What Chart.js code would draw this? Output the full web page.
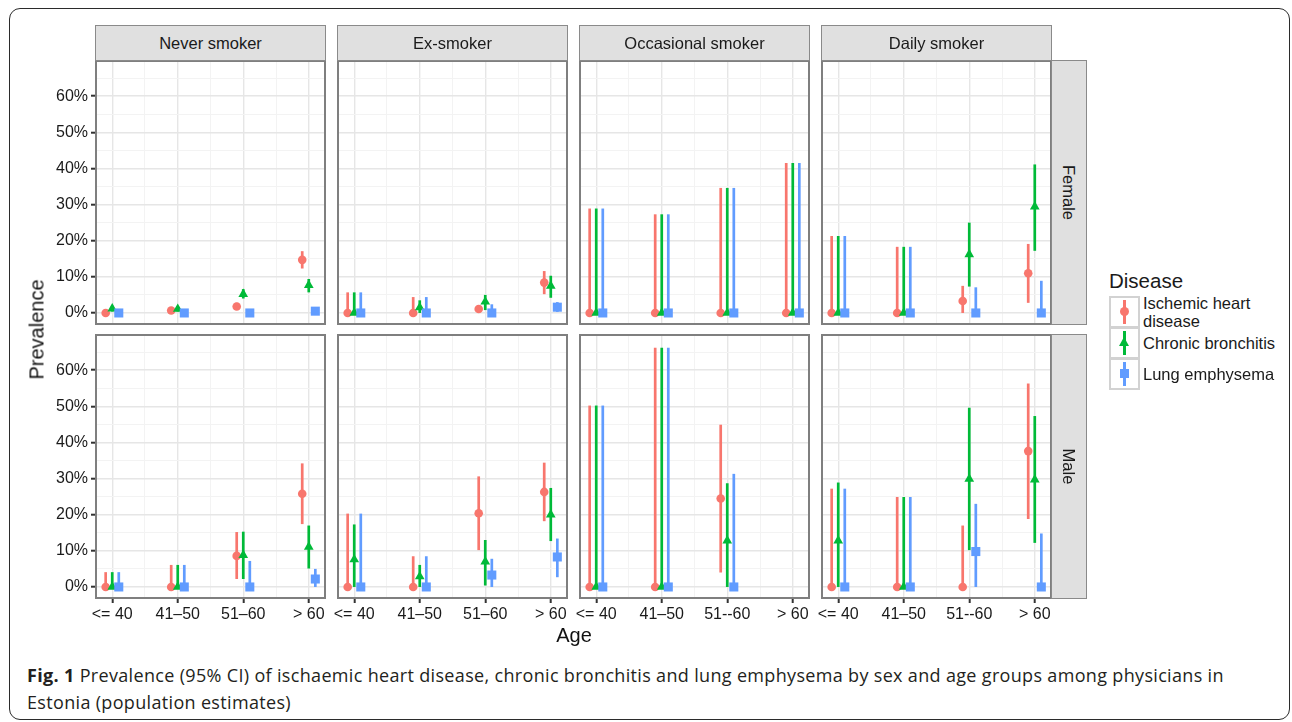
<!DOCTYPE html>
<html lang="en">
<head>
<meta charset="UTF-8">
<title>Prevalence by smoking status, sex and age</title>
<script src="https://cdn.jsdelivr.net/npm/chart.js"></script>
<style>
  body { margin: 0; background: #fff; }
  #fig { position: relative; width: 1292px; height: 722px; overflow: hidden; font-family: "Liberation Sans", Arial, sans-serif; color: #1a1a1a; }
  #frame { position: absolute; left: 9px; top: 8px; width: 1279px; height: 710px; border: 1.5px solid #2b2b2b; border-radius: 11px; }
  canvas { position: absolute; }
  .strip { position: absolute; background: #e0e0e0; border: 1px solid #8a8a8a; box-sizing: border-box; font-size: 16.5px; display: flex; align-items: center; justify-content: center; }
  .strip.side span { transform: rotate(90deg); white-space: nowrap; }
  .title { position: absolute; font-size: 20px; color: #111; }
  .lhead { position: absolute; left: 1109px; top: 269px; font-size: 20.5px; }
  .key { position: absolute; left: 1109px; width: 31px; height: 32px; box-sizing: border-box; border: 2px solid #d2d2d2; }
  .key .bar { position: absolute; left: 12px; top: 2px; width: 3px; height: 24px; }
  .klabel { position: absolute; left: 1143px; font-size: 16.5px; line-height: 18px; white-space: nowrap; }
  #caption { position: absolute; left: 27px; top: 662px; font-family: "Open Sans", sans-serif; font-size: 18px; letter-spacing: 0.33px; line-height: 27px; color: #231f20; white-space: nowrap; }
</style>
</head>
<body>
<div id="fig">
  <div id="frame"></div>
</div>
<script>
// facets and labels
const smoking = ['Never smoker', 'Ex-smoker', 'Occasional smoker', 'Daily smoker'];
const sexes = ['Female', 'Male'];
const diseases = ['Ischemic heart disease', 'Chronic bronchitis', 'Lung emphysema'];
const ageLabelsA = ['<= 40', '41\u201350', '51\u201360', '> 60'];
const ageLabelsB = ['<= 40', '41\u201350', '51--60', '> 60'];
const yTicks = [0, 5, 10, 15, 20, 25, 30, 35, 40, 45, 50, 55, 60, 65];
const xTicks = [1, 1.5, 2, 2.5, 3, 3.5, 4];

// prevalence in %, rows = smoking status, columns = age group
const ihdFemaleEst = [[0, 0.7, 1.8, 14.7], [0, 0, 1.1, 8.4], [0, 0, 0, 0], [0, 0, 3.3, 11.0]];
const ihdFemaleLo  = [[0, 0.2, 1.0, 12.3], [0, 0, 0.3, 5.2], [0, 0, 0, 0], [0, 0, 0, 2.8]];
const ihdFemaleHi  = [[0.6, 1.4, 2.8, 17.1], [5.7, 4.4, 2.2, 11.6], [28.9, 27.3, 34.6, 41.5], [21.3, 18.3, 7.5, 19.1]];
const chbFemaleEst = [[1.2, 1.1, 5.2, 7.7], [0, 1.5, 3.1, 7.5], [0, 0, 0, 0], [0, 0, 16.2, 29.4]];
const chbFemaleLo  = [[0.4, 0.4, 4.0, 5.7], [0, 0, 0.8, 4.2], [0, 0, 0, 0], [0, 0, 7.3, 17.2]];
const chbFemaleHi  = [[2.0, 1.8, 6.6, 9.4], [5.7, 3.5, 5.0, 10.3], [28.9, 27.3, 34.6, 41.5], [21.3, 18.3, 25.0, 41.1]];
const empFemaleEst = [[0, 0, 0, 0.5], [0, 0, 0, 1.6], [0, 0, 0, 0], [0, 0, 0, 0]];
const empFemaleLo  = [[0, 0, 0, 0], [0, 0, 0, 0.3], [0, 0, 0, 0], [0, 0, 0, 0]];
const empFemaleHi  = [[0.4, 0.4, 0.5, 1.0], [5.7, 4.4, 2.4, 3.0], [28.9, 27.3, 34.6, 41.5], [21.3, 18.3, 7.1, 8.9]];

const ihdMaleEst = [[0, 0, 8.6, 25.8], [0, 0, 20.4, 26.3], [0, 0, 24.5, null], [0, 0, 0, 37.6]];
const ihdMaleLo  = [[0, 0, 2.2, 17.4], [0, 0, 10.2, 18.2], [0, 0, 4.0, null], [0, 0, 0, 18.8]];
const ihdMaleHi  = [[4.1, 6.1, 15.2, 34.2], [20.3, 8.5, 30.6, 34.4], [50.2, 66.2, 44.9, null], [27.2, 24.9, 17.0, 56.3]];
const chbMaleEst = [[0, 0, 8.8, 11.1], [7.6, 2.9, 7.0, 20.0], [0, 0, 12.8, null], [12.8, 0, 29.9, 29.7]];
const chbMaleLo  = [[0, 0, 2.2, 5.1], [0, 0, 0.4, 12.7], [0, 0, 0, null], [0, 0, 10.2, 12.2]];
const chbMaleHi  = [[4.1, 6.1, 15.3, 17.0], [17.3, 6.1, 13.0, 27.4], [50.2, 66.2, 28.7, null], [28.9, 24.9, 49.6, 47.3]];
const empMaleEst = [[0, 0, 0, 2.2], [0, 0, 3.3, 8.3], [0, 0, 0, null], [0, 0, 9.8, 0]];
const empMaleLo  = [[0, 0, 0, 0], [0, 0, 0, 2.7], [0, 0, 0, null], [0, 0, 0, 0]];
const empMaleHi  = [[4.1, 6.1, 7.2, 5.0], [20.3, 8.5, 7.8, 13.4], [50.2, 66.2, 31.3, null], [27.2, 24.9, 23.0, 14.8]];

// styling
const colors = ['#F8766D', '#00BA38', '#619CFF'];
const pointStyles = ['circle', 'triangle', 'rect'];
const pointSizes = [4.3, 5.6, 6.4];
const dodge = [-0.1, 0, 0.1];

const panelLeft = [95, 337, 579, 821];
const panelTop = [60, 334];
const panelW = 231, panelH = 265;
const yAxisW = 70, xAxisH = 34;
const sideRoom = 22; // extra canvas room so edge tick labels are not cut

const est = [[ihdFemaleEst, chbFemaleEst, empFemaleEst], [ihdMaleEst, chbMaleEst, empMaleEst]];
const lo  = [[ihdFemaleLo, chbFemaleLo, empFemaleLo], [ihdMaleLo, chbMaleLo, empMaleLo]];
const hi  = [[ihdFemaleHi, chbFemaleHi, empFemaleHi], [ihdMaleHi, chbMaleHi, empMaleHi]];

const fig = document.getElementById('fig');

// error bars + panel border
const errorBars = {
    id: 'errorBars',
    beforeDatasetDraw(chart, args) {
        const ds = chart.data.datasets[args.index];
        const ctx = chart.ctx, xs = chart.scales.x, ys = chart.scales.y, a = chart.chartArea;
        ctx.save();
        ctx.beginPath();
        ctx.rect(a.left, a.top, a.right - a.left, a.bottom - a.top);
        ctx.clip();
        ctx.strokeStyle = ds.borderColor;
        ctx.lineWidth = 2.7;
        ds.data.forEach(p => {
            const px = xs.getPixelForValue(p.x);
            ctx.beginPath();
            ctx.moveTo(px, ys.getPixelForValue(p.lo));
            ctx.lineTo(px, ys.getPixelForValue(p.hi));
            ctx.stroke();
        });
        ctx.restore();
    },
    afterDraw(chart) {
        const ctx = chart.ctx, a = chart.chartArea;
        ctx.save();
        ctx.strokeStyle = '#7f7f7f';
        ctx.lineWidth = 2;
        ctx.strokeRect(a.left + 1, a.top + 1, a.right - a.left - 2, a.bottom - a.top - 2);
        ctx.restore();
    }
};

function noPad(s) {
    s.paddingLeft = 0; s.paddingRight = 0; s.paddingTop = 0; s.paddingBottom = 0;
}

function makePanel(r, c) {
    const leftAxis = c === 0, bottomAxis = r === 1;
    const padL = bottomAxis && !leftAxis ? sideRoom : 0;
    const padR = bottomAxis ? sideRoom : 0;
    const w = panelW + (leftAxis ? yAxisW : 0) + padL + padR;
    const h = panelH + (bottomAxis ? xAxisH : 0);
    const cv = document.createElement('canvas');
    cv.width = w; cv.height = h;
    cv.style.left = (panelLeft[c] - (leftAxis ? yAxisW : 0) - padL) + 'px';
    cv.style.top = panelTop[r] + 'px';
    cv.style.width = w + 'px'; cv.style.height = h + 'px';
    fig.appendChild(cv);

    const labels = c < 2 ? ageLabelsA : ageLabelsB;
    const datasets = diseases.map((d, k) => {
        const pts = [];
        for (let g = 0; g < 4; g++) {
            const v = est[r][k][c][g];
            if (v === null) continue;
            pts.push({ x: g + 1 + dodge[k], y: v, lo: lo[r][k][c][g], hi: hi[r][k][c][g] });
        }
        return {
            label: d, data: pts, order: 3 - k,
            backgroundColor: colors[k], borderColor: colors[k],
            pointStyle: pointStyles[k], pointRadius: pointSizes[k], pointBorderWidth: 0,
            showLine: false
        };
    });

    const isMajor = ctx => ctx.tick && (ctx.scale.axis === 'x' ? ctx.tick.value % 1 === 0 : ctx.tick.value % 10 === 0);
    const gridColor = ctx => isMajor(ctx) ? '#e6e6e6' : '#f3f3f3';
    const gridWidth = ctx => isMajor(ctx) ? 1.4 : 1;

    new Chart(cv, {
        type: 'scatter',
        data: { datasets },
        options: {
            responsive: false,
            animation: false,
            layout: { autoPadding: false, padding: { left: padL, right: padR, top: 0, bottom: 0 } },
            plugins: { legend: { display: false }, tooltip: { enabled: false } },
            scales: {
                x: {
                    type: 'linear', min: 0.737, max: 4.263,
                    afterBuildTicks: s => { s.ticks = xTicks.map(v => ({ value: v })); },
                    afterFit: s => { s.height = bottomAxis ? xAxisH : 0; noPad(s); },
                    border: { display: false },
                    grid: {
                        color: gridColor, lineWidth: gridWidth,
                        drawTicks: bottomAxis, tickLength: 4, tickWidth: 2,
                        tickColor: ctx => isMajor(ctx) ? '#333' : 'rgba(0,0,0,0)'
                    },
                    ticks: {
                        display: bottomAxis, autoSkip: false, maxRotation: 0, padding: 2,
                        color: '#1a1a1a', font: { family: 'Liberation Sans', size: 16 },
                        callback: v => Number.isInteger(v) ? labels[v - 1] : ''
                    }
                },
                y: {
                    type: 'linear', min: -3.33, max: 70,
                    afterBuildTicks: s => { s.ticks = yTicks.map(v => ({ value: v })); },
                    afterFit: s => { s.width = leftAxis ? yAxisW : 0; noPad(s); },
                    border: { display: false },
                    grid: {
                        color: gridColor, lineWidth: gridWidth,
                        drawTicks: leftAxis, tickLength: 4, tickWidth: 2,
                        tickColor: ctx => isMajor(ctx) ? '#333' : 'rgba(0,0,0,0)'
                    },
                    ticks: {
                        display: leftAxis, autoSkip: false, padding: 3,
                        color: '#1a1a1a', font: { family: 'Liberation Sans', size: 16 },
                        callback: v => v % 10 === 0 ? v + '%' : ''
                    }
                }
            }
        },
        plugins: [errorBars]
    });
}

for (let r = 0; r < 2; r++) for (let c = 0; c < 4; c++) makePanel(r, c);

// strips
smoking.forEach((s, c) => {
    const d = document.createElement('div');
    d.className = 'strip';
    d.style.left = panelLeft[c] + 'px'; d.style.top = '25px';
    d.style.width = panelW + 'px'; d.style.height = '36px';
    d.textContent = s;
    fig.appendChild(d);
});
sexes.forEach((s, r) => {
    const d = document.createElement('div');
    d.className = 'strip side';
    d.style.left = '1051px'; d.style.top = panelTop[r] + 'px';
    d.style.width = '36px'; d.style.height = panelH + 'px';
    d.innerHTML = '<span>' + s + '</span>';
    fig.appendChild(d);
});

// axis titles
const yt = document.createElement('div');
yt.className = 'title'; yt.textContent = 'Prevalence';
yt.style.left = '-13px'; yt.style.top = '318px'; yt.style.width = '100px'; yt.style.textAlign = 'center';
yt.style.transform = 'rotate(-90deg)';
fig.appendChild(yt);
const xt = document.createElement('div');
xt.className = 'title'; xt.textContent = 'Age';
xt.style.left = '544px'; xt.style.top = '624px'; xt.style.width = '60px'; xt.style.textAlign = 'center';
fig.appendChild(xt);

// legend
const head = document.createElement('div');
head.className = 'lhead'; head.textContent = 'Disease';
fig.appendChild(head);
const keyTops = [296, 327, 358];
const labelTops = [294, 334, 365];
const keyLabels = ['Ischemic heart<br>disease', 'Chronic bronchitis', 'Lung emphysema'];
diseases.forEach((d, k) => {
    let mark = '';
    if (k === 0) mark = '<div style="position:absolute;left:9px;top:9px;width:9px;height:9px;border-radius:50%;background:' + colors[k] + '"></div>';
    if (k === 1) mark = '<div style="position:absolute;left:8px;top:8px;width:0;height:0;border-left:5.5px solid transparent;border-right:5.5px solid transparent;border-bottom:9px solid ' + colors[k] + '"></div>';
    if (k === 2) mark = '<div style="position:absolute;left:9px;top:9px;width:9px;height:9px;background:' + colors[k] + '"></div>';
    const key = document.createElement('div');
    key.className = 'key';
    key.style.top = keyTops[k] + 'px';
    key.innerHTML = '<div class="bar" style="background:' + colors[k] + '"></div>' + mark;
    fig.appendChild(key);
    const lab = document.createElement('div');
    lab.className = 'klabel';
    lab.style.top = labelTops[k] + 'px';
    lab.innerHTML = keyLabels[k];
    fig.appendChild(lab);
});

// caption
const cap = document.createElement('div');
cap.id = 'caption';
cap.innerHTML = '<b>Fig. 1</b> Prevalence (95% CI) of ischaemic heart disease, chronic bronchitis and lung emphysema by sex and age groups among physicians in<br>Estonia (population estimates)';
fig.appendChild(cap);
</script>
</body>
</html>
